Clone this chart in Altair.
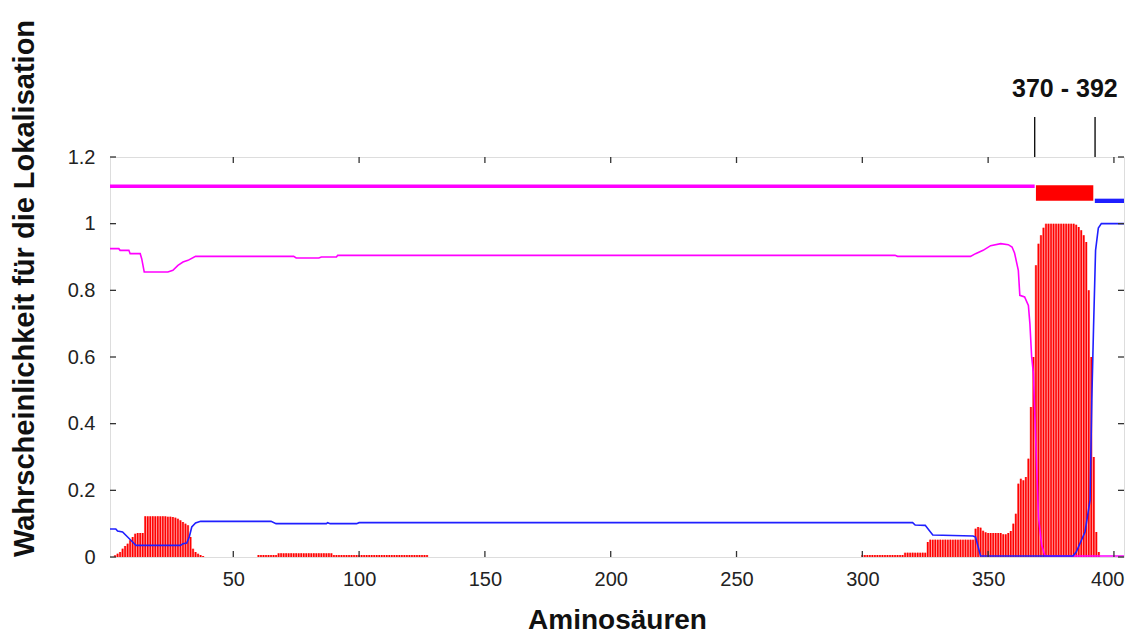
import altair as alt
import pandas as pd

W, H = 1014, 400
N_RES = 404

# ---- tick labels ----
x_ticks = [50, 100, 150, 200, 250, 300, 350, 400]
y_ticks = [0, 0.2, 0.4, 0.6, 0.8, 1.0, 1.2]

# ---- transmembrane probability (red impulses), per residue ----
tm_a_start = 1
tm_a = [0, 0, 0.005, 0.01, 0.015, 0.025, 0.033, 0.04, 0.05, 0.06,
        0.07, 0.072, 0.072, 0.072, 0.122, 0.122, 0.122, 0.122, 0.122, 0.122,
        0.122, 0.122, 0.122, 0.121, 0.121, 0.12, 0.118, 0.115, 0.11, 0.105,
        0.1, 0.095, 0.06, 0.025, 0.015, 0.01, 0.006, 0.003]
tm_b_start = 60
tm_b = [0.006, 0.006, 0.006, 0.006, 0.006, 0.006, 0.006, 0.006,
        0.011, 0.011, 0.011, 0.011, 0.011, 0.011, 0.011, 0.011, 0.011, 0.011, 0.011,
        0.011, 0.011, 0.011, 0.011, 0.011, 0.011, 0.011, 0.011, 0.011, 0.011, 0.011,
        0.006, 0.006, 0.006, 0.006, 0.006, 0.006, 0.006, 0.006, 0.006, 0.006,
        0.006, 0.006, 0.006, 0.006, 0.006, 0.006, 0.006, 0.006, 0.006, 0.006,
        0.006, 0.006, 0.006, 0.006, 0.006, 0.006, 0.006, 0.006, 0.006, 0.006,
        0.006, 0.006, 0.006, 0.006, 0.006, 0.006, 0.006, 0.006]
tm_c_start = 300
tm_c = [0.006, 0.006, 0.006, 0.006, 0.006, 0.006, 0.006, 0.006, 0.006, 0.006,
        0.006, 0.006, 0.006, 0.006, 0.006, 0.006, 0.006,
        0.013, 0.013, 0.013, 0.013, 0.013, 0.013, 0.013, 0.013, 0.013,
        0.045,
        0.052, 0.052, 0.052, 0.052, 0.052, 0.052, 0.052, 0.052, 0.052, 0.052,
        0.052, 0.052, 0.052, 0.052, 0.052, 0.052, 0.052, 0.052,
        0.085, 0.09, 0.088, 0.079, 0.074,
        0.072, 0.072, 0.072, 0.072, 0.072, 0.072,
        0.068, 0.068, 0.072, 0.078, 0.1, 0.13, 0.22, 0.235, 0.23, 0.24,
        0.295, 0.45, 0.6, 0.875, 0.94, 0.965, 0.988,
        1.0, 1.0, 1.0, 1.0, 1.0, 1.0, 1.0, 1.0, 1.0, 1.0, 1.0, 1.0,
        0.997, 0.99, 0.98, 0.965, 0.945, 0.8, 0.6, 0.3, 0.075, 0.015]

# ---- outside probability (magenta line) breakpoints ----
out_x = [1, 4.5, 5, 8.5, 9, 13, 13.6, 14.6, 24, 26, 28, 30, 32, 35, 74, 75, 84, 85, 91, 91.5,
         313, 314, 343, 345, 348, 351, 355, 358, 359.5, 360.5, 362, 362.6, 364.5, 366,
         366.6, 367.3, 368, 368.6, 369.3, 370, 371.3, 372.6, 404]
out_y = [0.925, 0.925, 0.92, 0.92, 0.91, 0.91, 0.895, 0.855, 0.855, 0.86, 0.875, 0.885, 0.89,
         0.902, 0.902, 0.897, 0.897, 0.9, 0.9, 0.905,
         0.905, 0.902, 0.902, 0.91, 0.92, 0.934, 0.94, 0.937, 0.93, 0.912, 0.86, 0.785, 0.78,
         0.755, 0.70, 0.60, 0.55, 0.42, 0.27, 0.12, 0.035, 0.003, 0.003]

# ---- inside probability (blue line) breakpoints ----
in_x = [1, 3.3, 4, 6, 8, 10, 11.3, 29, 30, 31.5, 32.5, 33.5, 35, 37, 65, 67, 87, 87.5, 88.5,
        99, 100, 320, 321, 325, 328, 344, 345, 347, 383.7, 385, 388.5, 390.5, 391.2, 391.9,
        392.7, 393.8, 395, 404]
in_y = [0.084, 0.084, 0.078, 0.075, 0.06, 0.045, 0.035, 0.035, 0.04, 0.042, 0.06, 0.09, 0.102,
        0.107, 0.107, 0.1, 0.1, 0.103, 0.1, 0.1, 0.103, 0.103, 0.096, 0.095, 0.066, 0.063, 0.06,
        0.003, 0.003, 0.015, 0.075, 0.17, 0.47, 0.69, 0.92, 0.987, 1.0, 1.0]

# ---- predicted topology strip ----
topo_out = [1, 368.5, 1.112]          # x, x2, y
topo_tm = [369, 391.8, 1.069, 1.115]  # x, x2, y, y2
topo_in = [392.4, 404, 1.062, 1.075]  # x, x2, y, y2

# ---- helix annotation ----
helix_marks = [368.5, 392.5]
helix_label = "370 - 392"
helix_label_x = 380.5

FONT = "Liberation Sans"

tm_vals = {}
for start, vals in [(tm_a_start, tm_a), (tm_b_start, tm_b), (tm_c_start, tm_c)]:
    for i, v in enumerate(vals):
        tm_vals[start + i] = v
tm_df = pd.DataFrame({"residue": list(range(1, N_RES + 1)),
                      "tm": [tm_vals.get(r, 0.0) for r in range(1, N_RES + 1)]})
out_df = pd.DataFrame({"residue": out_x, "p": out_y})
in_df = pd.DataFrame({"residue": in_x, "p": in_y})

xs = alt.Scale(domain=[1, N_RES], nice=False, zero=False)
ys = alt.Scale(domain=[0, 1.2], nice=False, zero=True)

x_axis = alt.Axis(values=x_ticks, title="Aminosäuren", grid=False, domain=False, ticks=False,
                  labelFont=FONT, labelFontSize=20, labelColor="#222222", labelPadding=12,
                  labelFlush=12, labelFlushOffset=10,
                  titleFont=FONT, titleFontSize=28, titleFontWeight="bold", titleColor="#111111",
                  titleX=W / 2, titleY=71, titleAlign="center", titleBaseline="alphabetic")
y_axis = alt.Axis(values=y_ticks, format="~g", title="Wahrscheinlichkeit für die Lokalisation",
                  grid=False, domain=False, ticks=False,
                  labelFont=FONT, labelFontSize=20, labelColor="#222222", labelPadding=15,
                  titleFont=FONT, titleFontSize=29, titleFontWeight="bold", titleColor="#111111",
                  titleX=-86, titleY=131, titleAngle=270, titleAlign="center",
                  titleBaseline="middle")


def X(field):
    return alt.X(field, scale=xs, axis=x_axis)


def Y(field):
    return alt.Y(field, scale=ys, axis=y_axis)


area = alt.Chart(tm_df).mark_area(interpolate="step", color="#ff0000", opacity=0.38).encode(
    x=X("residue:Q"), y=Y("tm:Q"))
rules = alt.Chart(tm_df).mark_rule(color="#ff0000", strokeWidth=1.5).encode(
    x=X("residue:Q"), y=Y("tm:Q"), y2=alt.datum(0))
out_line = alt.Chart(out_df).mark_line(color="#ff00ff", strokeWidth=1.6).encode(
    x=X("residue:Q"), y=Y("p:Q"))
in_line = alt.Chart(in_df).mark_line(color="#1f1fff", strokeWidth=1.6).encode(
    x=X("residue:Q"), y=Y("p:Q"))

topo_out_df = pd.DataFrame({"x": [topo_out[0]], "x2": [topo_out[1]], "y": [topo_out[2]]})
topo_out_mark = alt.Chart(topo_out_df).mark_rule(color="#ff00ff", strokeWidth=3.5).encode(
    x=X("x:Q"), x2="x2:Q", y=Y("y:Q"))
topo_rect_df = pd.DataFrame({"x": [topo_tm[0], topo_in[0]], "x2": [topo_tm[1], topo_in[1]],
                             "y": [topo_tm[2], topo_in[2]], "y2": [topo_tm[3], topo_in[3]],
                             "c": ["tm", "in"]})
topo_rects = alt.Chart(topo_rect_df).mark_rect().encode(
    x=X("x:Q"), x2="x2:Q", y=Y("y:Q"), y2="y2:Q",
    color=alt.Color("c:N", scale=alt.Scale(domain=["tm", "in"], range=["#ff0000", "#1f1fff"]),
                    legend=None),
)

# inward ticks on all four sides (gnuplot style)
xt_df = pd.DataFrame({"t": x_ticks})
yt_df = pd.DataFrame({"t": y_ticks})
TICK = dict(color="#333333", strokeWidth=1.3)
tick_bottom = alt.Chart(xt_df).mark_rule(**TICK).encode(
    x=X("t:Q"), y=alt.value(H), y2=alt.value(H - 6))
tick_top = alt.Chart(xt_df).mark_rule(**TICK).encode(
    x=X("t:Q"), y=alt.value(0), y2=alt.value(6))
tick_left = alt.Chart(yt_df).mark_rule(**TICK).encode(
    y=Y("t:Q"), x=alt.value(0), x2=alt.value(6))
tick_right = alt.Chart(yt_df).mark_rule(**TICK).encode(
    y=Y("t:Q"), x=alt.value(W - 6), x2=alt.value(W))

# helix annotation above the plot
hm_df = pd.DataFrame({"x": helix_marks})
helix_lines = alt.Chart(hm_df).mark_rule(color="#111111", strokeWidth=1.4).encode(
    x=X("x:Q"), y=alt.value(-40), y2=alt.value(0))
hl_df = pd.DataFrame({"x": [helix_label_x], "label": [helix_label]})
helix_text = alt.Chart(hl_df).mark_text(font=FONT, fontSize=25, fontWeight="bold",
                                        color="#111111", align="center",
                                        baseline="alphabetic").encode(
    x=X("x:Q"), y=alt.value(-60), text="label:N")

chart = alt.layer(
    area, rules, out_line, in_line, topo_out_mark, topo_rects,
    tick_bottom, tick_top, tick_left, tick_right, helix_lines, helix_text,
).properties(
    width=W, height=H,
    autosize=alt.AutoSizeParams(type="none"),
    padding={"left": 102, "top": 149, "right": 1, "bottom": 78},
).configure_view(
    stroke="#333333", strokeWidth=1.5
).configure(background="white")

chart.save("out.html", embed_options={"renderer": "svg", "actions": False})
